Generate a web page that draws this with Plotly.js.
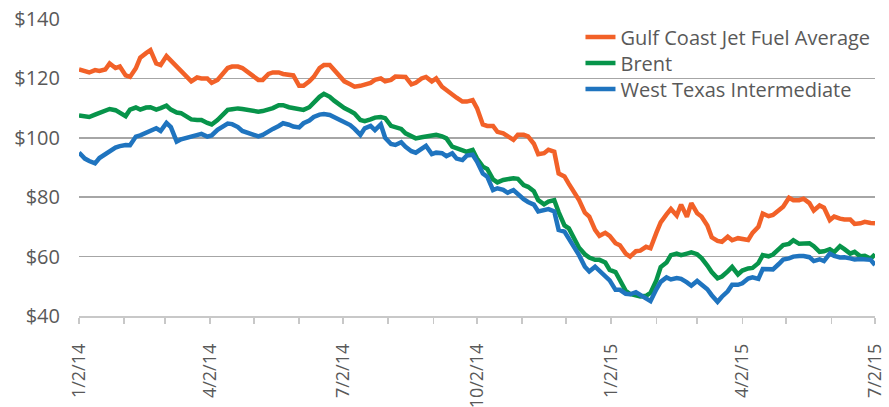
<!DOCTYPE html>
<html><head><meta charset="utf-8">
<script src="https://cdn.plot.ly/plotly-3.0.1.min.js"></script>
<style>html,body{margin:0;padding:0;background:#fff;}#chart{width:889px;height:407px;}</style>
</head><body><div id="chart"></div>
<script>
// Twice-weekly observations (Thursday, Monday), 1/2/2014 .. 7/2/2015
const dates = [
 '2014-01-02','2014-01-06','2014-01-09','2014-01-13','2014-01-16','2014-01-20','2014-01-23','2014-01-27','2014-01-30','2014-02-03',
 '2014-02-06','2014-02-10','2014-02-13','2014-02-17','2014-02-20','2014-02-24','2014-02-27','2014-03-03','2014-03-06','2014-03-10',
 '2014-03-13','2014-03-17','2014-03-20','2014-03-24','2014-03-27','2014-03-31','2014-04-03','2014-04-07','2014-04-10','2014-04-14',
 '2014-04-17','2014-04-21','2014-04-24','2014-04-28','2014-05-01','2014-05-05','2014-05-08','2014-05-12','2014-05-15','2014-05-19',
 '2014-05-22','2014-05-26','2014-05-29','2014-06-02','2014-06-05','2014-06-09','2014-06-12','2014-06-16','2014-06-19','2014-06-23',
 '2014-06-26','2014-06-30','2014-07-03','2014-07-07','2014-07-10','2014-07-14','2014-07-17','2014-07-21','2014-07-24','2014-07-28',
 '2014-07-31','2014-08-04','2014-08-07','2014-08-11','2014-08-14','2014-08-18','2014-08-21','2014-08-25','2014-08-28','2014-09-01',
 '2014-09-04','2014-09-08','2014-09-11','2014-09-15','2014-09-18','2014-09-22','2014-09-25','2014-09-29','2014-10-02','2014-10-06',
 '2014-10-09','2014-10-13','2014-10-16','2014-10-20','2014-10-23','2014-10-27','2014-10-30','2014-11-03','2014-11-06','2014-11-10',
 '2014-11-13','2014-11-17','2014-11-20','2014-11-24','2014-11-27','2014-12-01','2014-12-04','2014-12-08','2014-12-11','2014-12-15',
 '2014-12-18','2014-12-22','2014-12-25','2014-12-29','2015-01-01','2015-01-05','2015-01-08','2015-01-12','2015-01-15','2015-01-19',
 '2015-01-22','2015-01-26','2015-01-29','2015-02-02','2015-02-05','2015-02-09','2015-02-12','2015-02-16','2015-02-19','2015-02-23',
 '2015-02-26','2015-03-02','2015-03-05','2015-03-09','2015-03-12','2015-03-16','2015-03-19','2015-03-23','2015-03-26','2015-03-30',
 '2015-04-02','2015-04-06','2015-04-09','2015-04-13','2015-04-16','2015-04-20','2015-04-23','2015-04-27','2015-04-30','2015-05-04',
 '2015-05-07','2015-05-11','2015-05-14','2015-05-18','2015-05-21','2015-05-25','2015-05-28','2015-06-01','2015-06-04','2015-06-08',
 '2015-06-11','2015-06-15','2015-06-18','2015-06-22','2015-06-25','2015-06-29','2015-07-02'
];
const jetFuel = [
 123,122.3, 122,122.8, 122.5,123, 125,123.5, 124,121,
 120.5,123.4, 127,128.5, 129.5,125, 124.5,127.5, 126,123.5,
 122,120, 119,120.3, 120,120, 118.5,119.5, 121,123.5,
 124,124, 123.5,122, 121,119.5, 119.5,121.5, 122,122,
 121.5,121, 121,117.5, 117.5,119, 120.5,123.5, 124.5,124.5,
 123,121, 119,118, 117.2,117.5, 117.8,118.5, 119.5,120,
 119,119.5, 120.6,120.6, 120.5,118, 118.5,120, 120.5,119,
 120,117.2, 116,114.5, 113.5,112.2, 112.2,112.7, 110,104.5,
 104,104, 102,101.5, 100.5,99.3, 101,101, 100.5,98,
 94.5,94.8, 96,95.3, 88,87, 84.5,81.5, 79,74.8,
 73.5,69, 67,68, 67,64.5, 63.8,61, 60,61.8,
 62,63.3, 62.8,68, 71.5,74.2, 76,73.8, 77.5,73.4,
 78,74.6, 73.5,70.5, 66.5,65.3, 65,66.7, 65.5,66.2,
 66,65.6, 68,70, 74.5,73.6, 74,75.5, 76.8,79.8,
 79,79, 79.5,78, 75.5,77.2, 76.5,72.3, 73.5,72.8,
 72.5,72.5, 71,71.2, 71.7,71.3, 71.2
];
const brent = [
 107.5,107.3, 107,107.8, 108.3,109.3, 109.7,109.3, 108.5,107.3,
 109.5,110.2, 109.5,110.2, 110.3,109.5, 110,110.8, 109.5,108.5,
 108.3,107, 106.2,106, 106,105, 104.5,106, 107.5,109.4,
 109.6,109.9, 109.7,109.3, 109,108.8, 109,109.6, 110,111,
 111,110.3, 110,109.5, 109.4,110.3, 112,113.8, 114.8,113.8,
 112.5,111, 110,109, 108.2,106, 105.6,106.2, 106.8,107,
 106.6,104, 103.7,103, 101.5,100.5, 99.8,100.2, 100.4,100.8,
 101,100.5, 99.8,97, 96.5,95.8, 95.3,95.9, 93,90.3,
 89.5,86, 85,85.8, 86.2,86.4, 86.2,84.1, 83.5,82,
 79,77.6, 78.5,79, 75,70.5, 69.5,66, 63,60.8,
 59.7,58.9, 58.9,58, 55.5,54.8, 52,48.5, 47.4,47,
 46.6,46.8, 47.8,52, 56.5,58, 60.5,61, 60.5,61,
 61.4,60.8, 59.5,57, 54.8,52.7, 53.3,55, 56.5,54,
 55.3,56, 56.2,57.8, 60.5,60.1, 60.7,62.5, 63.9,64.3,
 65.5,64.3, 64.5,64.5, 63.5,61.6, 61.8,62.5, 61.5,63.5,
 62.5,61, 61.6,60.1, 60.3,59.3, 60.8
];
const wti = [
 95,93, 92.2,91.4, 93.2,94.5, 95.8,96.7, 97.2,97.6,
 97.5,100.4, 100.8,101.7, 102.6,103.2, 102.3,105, 103.6,98.7,
 99.5,100, 100.3,101, 101.3,100.4, 100.8,102.7, 103.8,104.8,
 104.6,103.6, 102.3,101.6, 101.2,100.5, 101,102.3, 103,104,
 104.9,104.4, 103.8,103.5, 104.9,105.8, 107,107.8, 108,107.7,
 107,106.3, 105.2,104.3, 103,101, 103.2,104, 102.6,104.5,
 100,97.9, 97.6,98.5, 97,95.5, 95,96.5, 97.3,94.5,
 95,94.8, 93.8,94.8, 93,92.5, 94,94.3, 92,88,
 86.9,82.4, 83,82.5, 81.5,82.4, 81,79.3, 78.4,77.5,
 75.2,75.6, 76,75.2, 69,68.4, 66,63.5, 60.5,56.6,
 55,56.6, 55.2,53.8, 52,48.8, 48.8,47.5, 47.3,48,
 47,45.8, 45,49, 51.5,53, 52.3,52.8, 52.5,51.3,
 50.2,51.8, 50.5,49, 47,44.8, 46.5,48.3, 50.5,50.5,
 51,52.6, 53,52.5, 55.8,55.6, 55.7,57.5, 59,59.4,
 60,60.2, 60.2,59.8, 58.5,59.1, 58.5,61, 60.2,59.7,
 59.8,59.4, 59,59.2, 59.2,58.9, 57.2
];
const seriesNames = ['Gulf Coast Jet Fuel Average','Brent','West Texas Intermediate'];
const seriesColors = ['#f26128','#07944a','#1f74bf'];
const xTickVals = ['2014-01-02','2014-04-02','2014-07-02','2014-10-02','2015-01-02','2015-04-02','2015-07-02'];
const xTickText = ['1/2/14','4/2/14','7/2/14','10/2/14','1/2/15','4/2/15','7/2/15'];
const yTickVals = [40,60,80,100,120,140];
const yTickText = ['$40','$60','$80','$100','$120','$140'];

const seriesValues = [jetFuel, brent, wti];
const legendIds = ['legend', 'legend2', 'legend3'];
const traces = seriesValues.map((vals, i) => ({
  type: 'scatter', mode: 'lines', x: dates, y: vals, name: seriesNames[i],
  legend: legendIds[i],
  line: {color: seriesColors[i], width: 4.5}
}));

const font = "'Open Sans', 'Noto Sans', sans-serif";
const legendBase = {x: 0.63, xanchor: 'left', yanchor: 'top',
  font: {family: font, size: 20, color: '#595959'}, bgcolor: 'rgba(0,0,0,0)', itemwidth: 30};
const layout = {
  width: 889, height: 407,
  margin: {l: 79, r: 14, t: 19, b: 91},
  paper_bgcolor: '#ffffff', plot_bgcolor: '#ffffff',
  font: {family: font, color: '#595959'},
  showlegend: true,
  legend: Object.assign({}, legendBase, {y: 1.005}),
  legend2: Object.assign({}, legendBase, {y: 0.9175}),
  legend3: Object.assign({}, legendBase, {y: 0.830}),
  xaxis: {
    type: 'date', range: ['2014-01-02', '2015-07-02'],
    tickmode: 'array', tickvals: xTickVals, ticktext: xTickText,
    tickangle: -90, tickfont: {family: font, size: 18, color: '#595959'},
    ticks: 'outside', ticklen: 6, tickwidth: 1.5, tickcolor: '#c8c8c8',
    minor: {ticks: 'outside', ticklen: 6, tickwidth: 1.5, tickcolor: '#c8c8c8', dtick: 'M1', tick0: '2014-01-02', showgrid: false},
    showline: true, linecolor: '#c8c8c8', linewidth: 1.5,
    showgrid: false, zeroline: false, ticklabelstandoff: 13
  },
  yaxis: {
    range: [40, 140], tickmode: 'array', tickvals: yTickVals, ticktext: yTickText,
    tickfont: {family: font, size: 20, color: '#595959'},
    showgrid: true, gridcolor: '#a6a6a6', gridwidth: 1.5,
    zeroline: false, showline: false, ticks: '', ticklabelstandoff: 18
  }
};
Plotly.newPlot('chart', traces, layout, {displayModeBar: false, staticPlot: true});
</script>
</body></html>
